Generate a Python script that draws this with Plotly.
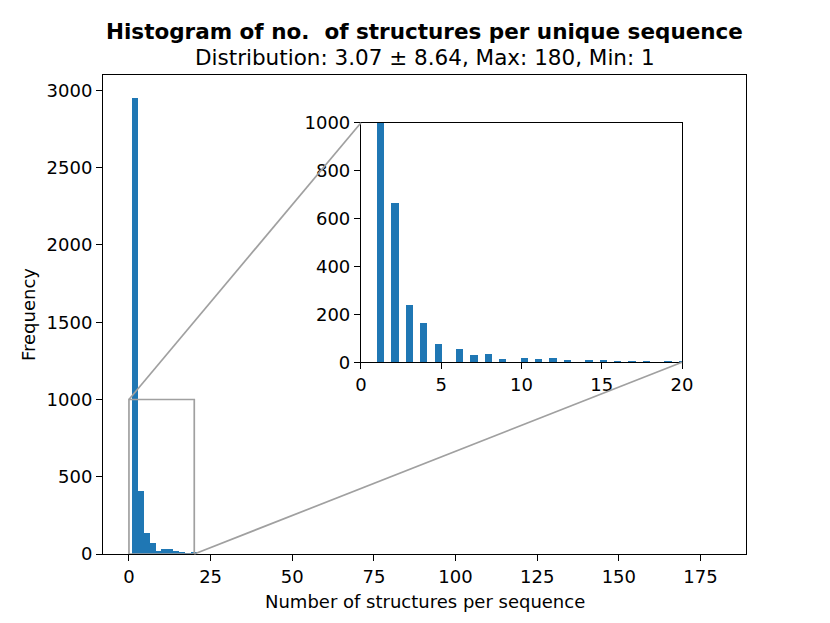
import numpy as np
import plotly.graph_objects as go

# Counts of number of structures per unique sequence
seq_values = [1, 2, 3, 4, 5, 6, 7, 8, 9, 10, 11, 12, 13, 14, 15, 16, 17, 18, 19, 20]
seq_counts = [2285, 667, 240, 167, 76, 58, 32, 36, 17, 18, 14, 21, 11, 11, 11, 8, 5, 5, 4, 3]

main_xticks = [0, 25, 50, 75, 100, 125, 150, 175]
main_yticks = [0, 500, 1000, 1500, 2000, 2500, 3000]
inset_xticks = [0, 5, 10, 15, 20]
inset_yticks = [0, 200, 400, 600, 800, 1000]

title_line1 = "Histogram of no.  of structures per unique sequence"
title_line2 = "Distribution: 3.07 ± 8.64, Max: 180, Min: 1"

samples = np.repeat(np.array(seq_values), np.array(seq_counts))
vmin, vmax = 1, 180
main_bins = 100
inset_bins = 400

BLUE = "#1f77b4"
GRAY = "#a0a0a0"
FONT = "DejaVu Sans"

OFF = 8  # page body margin
W, H = 830 - OFF, 623 - OFF
ml, mt = 103 - OFF, 75 - OFF
mr = W - (746 - OFF)
mb = H - (554 - OFF)

xr_main = [vmin - 0.05 * (vmax - vmin), vmax + 0.05 * (vmax - vmin)]
yr_main = [0, 3100]
ins_x = [0.4012, 0.9005]
ins_y = [0.4002, 0.9004]
ins_xr = [0, 20]
ins_yr = [0, 1000]

fig = go.Figure()
fig.add_trace(go.Histogram(
    x=samples, xbins=dict(start=vmin, end=vmax, size=(vmax - vmin) / main_bins),
    marker=dict(color=BLUE, line=dict(width=0)), xaxis="x", yaxis="y",
    autobinx=False, showlegend=False))
fig.add_trace(go.Histogram(
    x=samples, xbins=dict(start=vmin, end=vmax, size=(vmax - vmin) / inset_bins),
    marker=dict(color=BLUE, line=dict(width=0)), xaxis="x2", yaxis="y2",
    autobinx=False, showlegend=False))

axis_common = dict(showline=True, mirror=True, linecolor="black", linewidth=1.1,
                   ticks="outside", ticklen=6, tickwidth=1.1, tickcolor="black",
                   showgrid=False, zeroline=False,
                   tickfont=dict(family=FONT, size=18, color="black"))

def to_paper(v, r, dom):
    return dom[0] + (v - r[0]) / (r[1] - r[0]) * (dom[1] - dom[0])

fig.update_layout(
    width=W, height=H, margin=dict(l=ml, r=mr, t=mt, b=mb, pad=0),
    paper_bgcolor="white", plot_bgcolor="white", bargap=0,
    font=dict(family=FONT, size=18, color="black"),
    xaxis=dict(range=xr_main, tickvals=main_xticks, domain=[0, 1], anchor="y", **axis_common),
    yaxis=dict(range=yr_main, tickvals=main_yticks, domain=[0, 1], anchor="x", **axis_common),
    xaxis2=dict(range=ins_xr, tickvals=inset_xticks, domain=ins_x, anchor="y2", **axis_common),
    yaxis2=dict(range=ins_yr, tickvals=inset_yticks, domain=ins_y, anchor="x2", **axis_common),
)

# zoom indicator rectangle in main data coordinates
fig.add_shape(type="rect", xref="x", yref="y", x0=ins_xr[0], x1=ins_xr[1], y0=ins_yr[0], y1=ins_yr[1],
              line=dict(color=GRAY, width=1.7), layer="above")
# connectors (paper coords)
p_tl = (to_paper(ins_xr[0], xr_main, [0, 1]), to_paper(ins_yr[1], yr_main, [0, 1]))
p_br = (to_paper(ins_xr[1], xr_main, [0, 1]), to_paper(ins_yr[0], yr_main, [0, 1]))
fig.add_shape(type="line", xref="paper", yref="paper", x0=p_tl[0], y0=p_tl[1], x1=ins_x[0], y1=ins_y[1],
              line=dict(color=GRAY, width=1.7), layer="above")
fig.add_shape(type="line", xref="paper", yref="paper", x0=p_br[0], y0=p_br[1], x1=ins_x[1], y1=ins_y[0],
              line=dict(color=GRAY, width=1.7), layer="above")

pw = W - ml - mr
ph = H - mt - mb
bottom_px = H - mb + OFF  # page y of plot bottom

def py(page_y):
    return (bottom_px - page_y) / ph

def px(page_x):
    return (page_x - OFF - ml) / pw

fig.add_annotation(text="<b>" + title_line1 + "</b>", xref="paper", yref="paper", x=0.5,
                   y=py(31), xanchor="center", yanchor="middle", showarrow=False,
                   font=dict(family=FONT, size=21.5, color="black"))
fig.add_annotation(text=title_line2, xref="paper", yref="paper", x=0.5,
                   y=py(57.5), xanchor="center", yanchor="middle", showarrow=False,
                   font=dict(family=FONT, size=21.5, color="black"))
fig.add_annotation(text="Number of structures per sequence", xref="paper", yref="paper", x=0.5,
                   y=py(601), xanchor="center", yanchor="middle", showarrow=False,
                   font=dict(family=FONT, size=18, color="black"))
fig.add_annotation(text="Frequency", xref="paper", yref="paper", x=px(28.5),
                   y=0.5, xanchor="center", yanchor="middle", textangle=-90, showarrow=False,
                   font=dict(family=FONT, size=18, color="black"))

fig.write_html("out.html")
